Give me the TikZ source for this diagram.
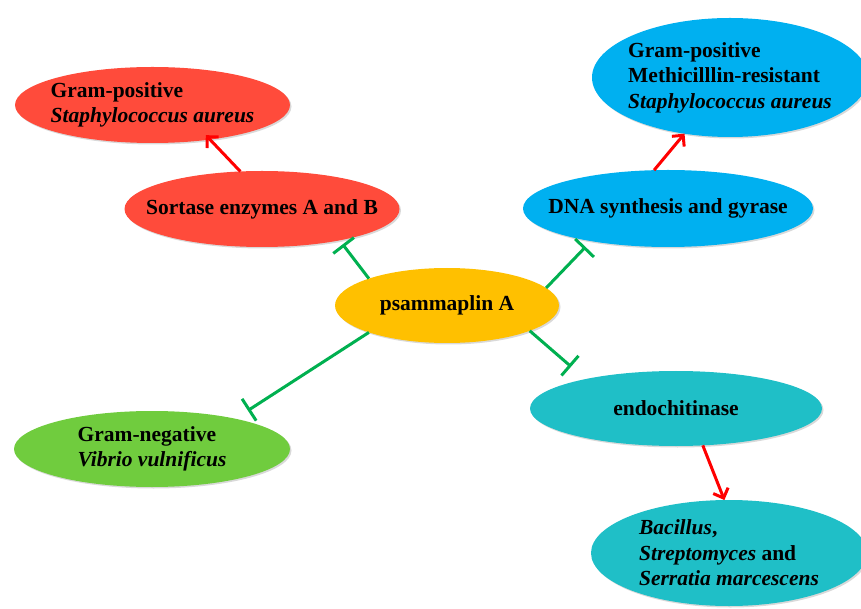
\documentclass[tikz,border=0pt]{standalone}
\usepackage{fontspec}
\setmainfont{Liberation Serif}
\usepackage{xcolor}
\usetikzlibrary{arrows.meta,shapes.geometric,shadows}
\definecolor{redfill}{HTML}{FF4B3B}
\definecolor{bluefill}{HTML}{00B0F0}
\definecolor{yellowfill}{HTML}{FFC000}
\definecolor{greenfill}{HTML}{70CC3E}
\definecolor{tealfill}{HTML}{1FBFC7}
\definecolor{inhgreen}{HTML}{00B050}
\definecolor{actred}{HTML}{FF0000}

\begin{document}
\begin{tikzpicture}[x=1pt,y=1pt,
  blob/.style={ellipse, inner sep=-20pt, outer sep=0pt, align=left,
    font=\fontsize{21.5}{25.5}\selectfont\bfseries,
    drop shadow={opacity=0.3,shadow xshift=1.5pt,shadow yshift=-1.5pt}},
  inhibit/.style={draw=inhgreen, line width=3pt, -{Bar[width=26pt]}},
  activate/.style={draw=actred, line width=3pt, -{Straight Barb[length=8pt,width=16pt]}}]
\useasboundingbox (0,0) rectangle (861,608);
\node[blob, fill=redfill, minimum width=275pt, minimum height=76pt] (gpos) at (152.5,503)
  {Gram-positive\\\textit{Staphylococcus aureus}};
\node[blob, fill=redfill, minimum width=275pt, minimum height=76pt] (sortase) at (262,399)
  {Sortase enzymes A and B};
\node[blob, fill=bluefill, minimum width=276pt, minimum height=119pt] (mrsa) at (730,530.5)
  {Gram-positive\\Methicilllin-resistant\\\textit{Staphylococcus aureus}};
\node[blob, fill=bluefill, minimum width=290pt, minimum height=77pt] (dna) at (668,399.5)
  {DNA synthesis and gyrase};
\node[blob, fill=yellowfill, minimum width=224pt, minimum height=75pt] (psa) at (447,302.5)
  {psammaplin A};
\node[blob, fill=greenfill, minimum width=276pt, minimum height=76pt] (gneg) at (152,159)
  {Gram-negative\\\textit{Vibrio vulnificus}};
\node[blob, fill=tealfill, minimum width=292pt, minimum height=75pt] (endo) at (676,199.5)
  {endochitinase};
\node[blob, fill=tealfill, minimum width=276pt, minimum height=106pt] (bac) at (729,55)
  {\textit{Bacillus},\\\textit{Streptomyces} and\\\textit{Serratia marcescens}};
% red arrows
\draw[activate, shorten >=-6pt] (sortase.120) -- (gpos.-31);
\draw[activate] (dna.110) -- (mrsa.231);
\draw[activate] (endo.-54) -- (bac.95);
% green inhibition
\draw[inhibit, shorten >=5pt] (psa.161) -- (sortase.-22);
\draw[inhibit, shorten >=8pt] (psa.10) -- (dna.203);
\draw[inhibit, shorten >=15pt] (psa.199) -- (gneg.20);
\draw[inhibit, shorten >=19pt] (psa.-17) -- (endo.162);
\end{tikzpicture}
\end{document}
